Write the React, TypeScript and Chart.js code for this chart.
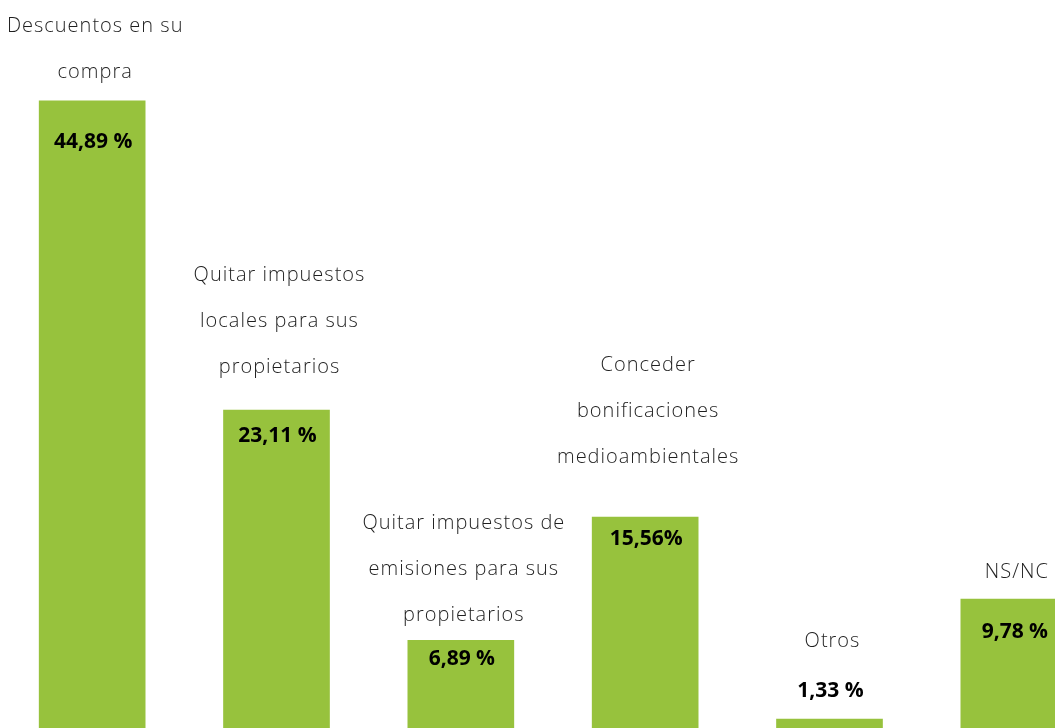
import React, { useEffect, useRef } from "react";
import { Chart, registerables } from "chart.js";

Chart.register(...registerables);

const categories: string[][] = [
  ["Descuentos en su", "compra"],
  ["Quitar impuestos", "locales para sus", "propietarios"],
  ["Quitar impuestos de", "emisiones para sus", "propietarios"],
  ["Conceder", "bonificaciones", "medioambientales"],
  ["Otros"],
  ["NS/NC"],
];
const values: number[] = [44.89, 23.11, 6.89, 15.56, 1.33, 9.78];
const valueLabels: string[] = ["44,89 %", "23,11 %", "6,89 %", "15,56%", "1,33 %", "9,78 %"];

const GREEN = "#97c23d";

// Layout tweaks relative to each bar's top (styling only)
const labelGap = [23, 37, 19, 54, 72, 21];
const valueOffset = [47, 32, 25, 28, -22, 39];
const LINE_H = 46;

const labelPlugin = {
  id: "barLabels",
  afterDatasetsDraw(chart: any) {
    const ctx = chart.ctx as CanvasRenderingContext2D;
    const meta = chart.getDatasetMeta(0);
    ctx.save();
    ctx.textAlign = "center";
    ctx.textBaseline = "alphabetic";
    meta.data.forEach((bar: any, i: number) => {
      const x = bar.x;
      const top = bar.y;
      const lines = categories[i];
      ctx.font = '300 20px "Open Sans"';
      (ctx as any).letterSpacing = "1px";
      ctx.fillStyle = "#1f1f1f";
      const lastBase = top - labelGap[i];
      lines.forEach((ln, k) => {
        const y = lastBase - (lines.length - 1 - k) * LINE_H;
        ctx.fillText(ln, x + 3, y);
      });
      ctx.font = 'bold 21px "Open Sans"';
      (ctx as any).letterSpacing = "0px";
      ctx.fillStyle = "#000";
      ctx.fillText(valueLabels[i], x + 1, top + valueOffset[i]);
    });
    ctx.restore();
  },
};

export default function App() {
  const ref = useRef<HTMLCanvasElement | null>(null);
  useEffect(() => {
    if (!ref.current) return;
    const chart = new Chart(ref.current, {
      type: "bar",
      data: {
        labels: categories.map((c) => c.join(" ")),
        datasets: [
          {
            data: values,
            backgroundColor: GREEN,
            borderWidth: 0,
            barThickness: 106,
          },
        ],
      },
      options: {
        responsive: false,
        animation: false,
        devicePixelRatio: 1,
        layout: { padding: 0 },
        plugins: { legend: { display: false }, tooltip: { enabled: false } },
        scales: {
          x: { display: false },
          y: { display: false, min: 0, max: 52 },
        },
      },
      plugins: [labelPlugin],
    });
    return () => chart.destroy();
  }, []);
  return (
    <div
      style={{
        position: "fixed",
        left: 0,
        top: 0,
        width: 1055,
        height: 728,
        overflow: "hidden",
        background: "#fff",
      }}
    >
      <canvas ref={ref} width={1106} height={738} style={{ display: "block" }} />
    </div>
  );
}
